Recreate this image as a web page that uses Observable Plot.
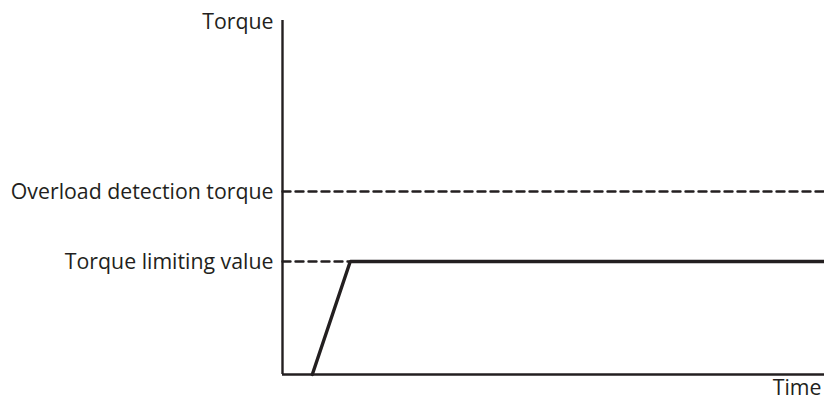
<!DOCTYPE html>
<html>
<head>
<meta charset="utf-8">
<script src="https://cdn.jsdelivr.net/npm/d3@7"></script>
<script src="https://cdn.jsdelivr.net/npm/@observablehq/plot@0.6"></script>
<style>
  html, body { margin: 0; padding: 0; background: #fff; }
  svg { display: block; }
</style>
</head>
<body>
<div id="chart"></div>
<script>
// Levels on the torque axis (percent of axis height)
const levelLabels = ["Overload detection torque", "Torque limiting value"];
const levelValues = [51.7, 31.9];
// Torque curve over time (percent of axis width)
const curveTime = [5.5, 12.5, 100];
const curveTorque = [0, 31.9, 31.9];
// Axis titles
const yTitle = "Torque";
const xTitle = "Time";

const ink = "#231f20";
const font = "'Open Sans', sans-serif";
const fs = 21.3;

const curve = curveTime.map((t, i) => ({t, v: curveTorque[i]}));
const overload = [{t: 0, v: levelValues[0]}, {t: 100, v: levelValues[0]}];
const limitDash = [{t: 0, v: levelValues[1]}, {t: curveTime[1], v: levelValues[1]}];

const chart = Plot.plot({
  width: 824,
  height: 402,
  marginLeft: 282,
  marginRight: 0,
  marginTop: 20,
  marginBottom: 28,
  style: {fontFamily: font, fontSize: fs + "px", color: ink, background: "#fff"},
  x: {domain: [0, 100], axis: null},
  y: {domain: [0, 100], axis: null},
  marks: [
    Plot.line(overload, {x: "t", y: "v", stroke: ink, strokeWidth: 2.4, strokeDasharray: "8,5"}),
    Plot.line(limitDash, {x: "t", y: "v", stroke: ink, strokeWidth: 2.4, strokeDasharray: "8,5"}),
    Plot.line(curve, {x: "t", y: "v", stroke: ink, strokeWidth: 3.4, strokeLinejoin: "miter"}),
    Plot.ruleX([0], {y1: 0, y2: 100, stroke: ink, strokeWidth: 2.4}),
    Plot.ruleY([0], {x1: 0, x2: 100, stroke: ink, strokeWidth: 2.4}),
    Plot.text(levelLabels.map((l, i) => ({l, v: levelValues[i]})), {
      x: 0, y: "v", text: "l", textAnchor: "end", dx: -9, dy: 1, fontSize: fs, fill: ink, clip: false
    }),
    Plot.text([yTitle], {x: 0, y: 100, text: d => d, textAnchor: "end", dx: -9, dy: 2, fontSize: fs, fill: ink, clip: false}),
    Plot.text([xTitle], {x: 100, y: 0, text: d => d, textAnchor: "end", dx: -3, dy: 14, fontSize: fs, fill: ink, clip: false})
  ]
});
document.getElementById("chart").appendChild(chart);
</script>
</body>
</html>
